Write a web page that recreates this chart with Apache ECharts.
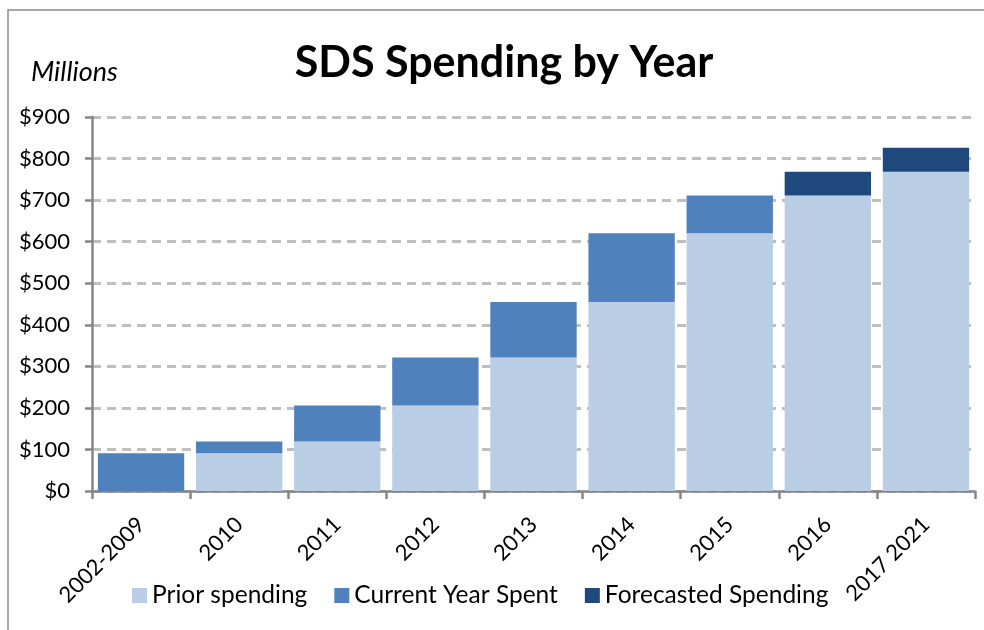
<!DOCTYPE html>
<html>
<head>
<meta charset="utf-8">
<script src="https://cdn.jsdelivr.net/npm/echarts@6/dist/echarts.min.js"></script>
<style>
  html, body { margin: 0; padding: 0; background: #fff; }
  #main { width: 984px; height: 630px; }
</style>
</head>
<body>
<div id="main"></div>
<script>
// 年份分类
var categories = ['2002-2009', '2010', '2011', '2012', '2013', '2014', '2015', '2016', '2017 2021']
// 以前的支出（百万美元）
var priorSpending = [0, 91, 119, 206, 321, 455, 620, 711, 768]
// 本年度已支出
var currentYearSpent = [91, 28, 87, 115, 134, 165, 91, 0, 0]
// 预测支出
var forecastedSpending = [0, 0, 0, 0, 0, 0, 0, 57, 58]
var yTicks = [0, 900, 100]  // min, max, interval

var font = 'Lato, "Open Sans", sans-serif'
var myChart = echarts.init(document.getElementById('main'))

myChart.setOption({
  animation: false,
  textStyle: { fontFamily: font },
  title: {
    text: 'SDS Spending by Year',
    left: 499,
    textAlign: 'center',
    top: 37,
    textStyle: { fontSize: 43, fontWeight: 'bold', color: '#000', fontFamily: font }
  },
  graphic: [
    {
      type: 'rect',
      shape: { x: 8, y: 10, width: 990, height: 640 },
      style: { fill: 'none', stroke: '#8c8c8c', lineWidth: 1.5 },
      silent: true
    },
    {
      type: 'text',
      left: 31,
      top: 59,
      style: { text: 'Millions', fontSize: 27, fontStyle: 'italic', fill: '#000', fontFamily: font }
    }
  ],
  legend: {
    left: 127,
    top: 578,
    itemWidth: 15,
    itemHeight: 15,
    itemGap: 27,
    icon: 'rect',
    textStyle: { fontSize: 24.5, color: '#000', fontFamily: font, padding: [0, 0, 0, 0] },
    data: ['Prior spending', 'Current Year Spent', 'Forecasted Spending']
  },
  grid: { left: 92, right: 9, top: 117, bottom: 139, containLabel: false },
  xAxis: {
    type: 'category',
    data: categories,
    axisLine: { lineStyle: { color: '#868686', width: 2.5 } },
    axisTick: { show: true, length: 8, lineStyle: { color: '#868686', width: 2.5 } },
    axisLabel: { rotate: 45, fontSize: 22, color: '#000', margin: 30, fontFamily: font }
  },
  yAxis: {
    type: 'value',
    min: yTicks[0],
    max: yTicks[1],
    interval: yTicks[2],
    axisLine: { show: true, lineStyle: { color: '#868686', width: 2.5 } },
    axisTick: { show: true, length: 7, lineStyle: { color: '#868686', width: 2.5 } },
    axisLabel: { fontSize: 22, color: '#000', margin: 22, formatter: '${value}', fontFamily: font },
    splitLine: { lineStyle: { color: '#bfbfbf', width: 3, type: [9, 6] } }
  },
  series: [
    {
      name: 'Prior spending',
      type: 'bar',
      stack: 'total',
      barCategoryGap: '12%',
      data: priorSpending,
      itemStyle: { color: '#b9cde5' }
    },
    {
      name: 'Current Year Spent',
      type: 'bar',
      stack: 'total',
      data: currentYearSpent,
      itemStyle: { color: '#4f81bd' }
    },
    {
      name: 'Forecasted Spending',
      type: 'bar',
      stack: 'total',
      data: forecastedSpending,
      itemStyle: { color: '#1f497d' }
    }
  ]
})
</script>
</body>
</html>
